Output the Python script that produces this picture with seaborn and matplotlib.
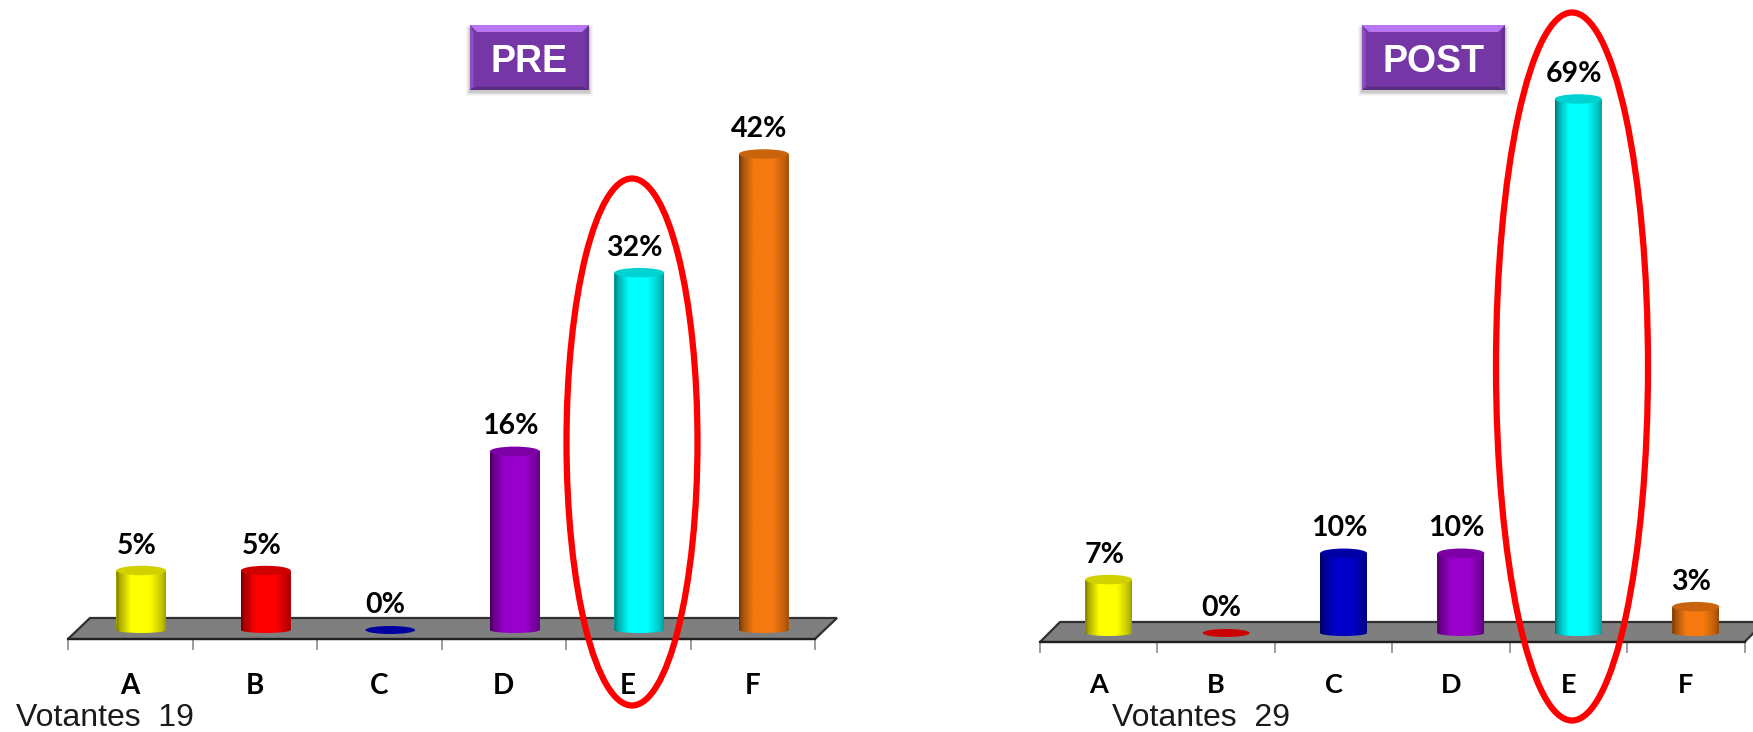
import numpy as np
import pandas as pd
import matplotlib
matplotlib.use("Agg")
import matplotlib.pyplot as plt
from matplotlib.colors import to_rgb
from matplotlib.patches import Ellipse, Polygon, Rectangle
from matplotlib.path import Path
from matplotlib.ticker import FixedLocator
import seaborn as sns

# Share of votes per answer, before and after the session
categories = ["A", "B", "C", "D", "E", "F"]
pre_values = [5.26, 5.26, 0.0, 15.8, 31.6, 42.1]
post_values = [6.9, 0.0, 10.3, 10.3, 69.0, 3.4]
pre_voters = 19
post_voters = 29

pre_colors = ["#FFFF00", "#FF0000", "#0000C8", "#9900CC", "#00FFFF", "#F57A10"]
post_colors = ["#FFFF00", "#FF0000", "#0000C8", "#9900CC", "#00FFFF", "#F57A10"]

W, H = 1753, 732
DARK_FONT = ["Lato", "DejaVu Sans"]
ARIAL = ["Liberation Sans", "DejaVu Sans"]

sns.set_theme(style="white")
plt.rcParams["font.family"] = DARK_FONT

fig = plt.figure(figsize=(W / 100, H / 100), dpi=100, facecolor="white")


def shade(color, factor):
    return tuple(np.clip(np.array(to_rgb(color)) * factor, 0, 1))


def cylinder_image(color):
    # Horizontal lighting across a cylinder: dark rim, bright core
    stops = [0.0, 0.06, 0.3, 0.68, 0.93, 1.0]
    gains = [0.45, 0.66, 1.0, 1.0, 0.76, 0.62]
    t = np.linspace(0, 1, 64)
    gain = np.interp(t, stops, gains)
    rgb = np.array(to_rgb(color))
    return (rgb[None, None, :] * gain[None, :, None]).clip(0, 1)


def draw_panel(values, colors, left, right, front_y, base_y, px_per_unit,
               skew_px, back_y, label_size, tick_size, tick_label_y):
    slot_px = (right - left) / len(categories)
    y_min = -(front_y - base_y) / px_per_unit
    y_max = base_y / px_per_unit
    ax = fig.add_axes([left / W, 1 - front_y / H, (right - left) / W, front_y / H])
    ax.patch.set_alpha(0)

    frame = pd.DataFrame({"answer": categories, "share": values})
    sns.barplot(data=frame, x="answer", y="share", hue="answer", order=categories,
                hue_order=categories, palette=dict(zip(categories, colors)),
                saturation=1, width=0.40, legend=False, ax=ax, zorder=3, linewidth=0)
    ax.set_xlim(-0.5, len(categories) - 0.5)
    ax.set_ylim(y_min, y_max)
    ax.set_xlabel("")
    ax.set_ylabel("")
    ax.set_yticks([])

    # Floor plate seen in oblique projection
    dx = skew_px / slot_px
    dy = (front_y - back_y) / px_per_unit
    x0, x1 = ax.get_xlim()
    ax.add_patch(Polygon([(x0, y_min), (x1, y_min), (x1 + dx, y_min + dy), (x0 + dx, y_min + dy)],
                         closed=True, facecolor="#7F7F7F", edgecolor="#303030",
                         linewidth=1.6, zorder=1, clip_on=False))

    # Category labels sit mid-slot, tick marks on slot boundaries
    ax.xaxis.set_major_locator(FixedLocator(range(len(categories))))
    ax.set_xticklabels(categories)
    ax.xaxis.set_minor_locator(FixedLocator(np.arange(-0.5, len(categories), 1.0)))
    ax.tick_params(axis="x", which="minor", length=8, width=1.2, color="#8C8C8C", bottom=True)
    ax.tick_params(axis="x", which="major", length=0,
                   pad=(tick_label_y - front_y - 10) * 0.72, labelsize=tick_size)
    for t in ax.get_xticklabels():
        t.set_fontweight("bold")
        t.set_color("black")
        t.set_family(DARK_FONT)

    for side in ("top", "left", "right"):
        ax.spines[side].set_visible(False)
    ax.spines["bottom"].set_color("#202020")
    ax.spines["bottom"].set_linewidth(1.6)
    ax.spines["bottom"].set_zorder(2)

    # Turn each flat bar into a lit cylinder, using the bar's own geometry
    offset = (skew_px * 0.5) / slot_px
    cap_h = 9.5 / px_per_unit
    foot_h = 6.0 / px_per_unit
    for patch, val, col in zip(ax.patches, values, colors):
        patch.set_x(patch.get_x() + offset)
        patch.set_visible(val > 0)
        bx, bw = patch.get_x(), patch.get_width()
        cx = bx + bw / 2
        top = patch.get_height()
        if top <= 0:
            ax.add_patch(Ellipse((cx, 0), bw, 8.0 / px_per_unit, facecolor=shade(col, 0.8),
                                 edgecolor="none", zorder=4))
        else:
            foot = Ellipse((cx, 0), bw, foot_h)
            outline = Path.make_compound_path(
                Path([(bx, 0), (bx + bw, 0), (bx + bw, top), (bx, top), (bx, 0)], closed=True),
                foot.get_path().transformed(foot.get_patch_transform()),
            )
            image = ax.imshow(cylinder_image(col), extent=(bx, bx + bw, -foot_h / 2, top),
                              aspect="auto", zorder=3.1, interpolation="bilinear")
            image.set_clip_path(outline, ax.transData)
            patch.set_facecolor(shade(col, 0.9))
            patch.set_zorder(2.9)
            ax.add_patch(Ellipse((cx, top), bw, cap_h, facecolor=shade(col, 0.82),
                                 edgecolor="none", zorder=3.2))
        ax.text(cx - 4.5 / slot_px, top + 17 / px_per_unit, f"{val:.0f}%",
                ha="center", va="baseline", fontsize=label_size, fontweight="bold",
                color="black", family=DARK_FONT, zorder=5)
    ax.set_xlim(x0, x1)
    ax.set_ylim(y_min, y_max)
    return ax


draw_panel(pre_values, pre_colors, 68, 815, 639, 630, 476 / 42.1, 22, 618, 20.5, 20, 683)
draw_panel(post_values, post_colors, 1040, 1744.5, 642, 633, 534 / 69.0, 20, 622, 20.5, 19.5, 683)

# Overlay in figure pixels for the callouts, badges and voter counts
overlay = fig.add_axes([0, 0, 1, 1], zorder=10)
overlay.set_xlim(0, W)
overlay.set_ylim(H, 0)
overlay.axis("off")
overlay.patch.set_alpha(0)


def badge(x0, x1, y0, y1, text):
    bevel = 7
    for grow, alpha in ((4, 0.04), (3, 0.06), (2, 0.09), (1, 0.12)):
        overlay.add_patch(Rectangle((x0 - grow, y0 - grow + 4), x1 - x0 + 2 * grow,
                                    y1 - y0 + 2 * grow - 2, facecolor="#404040",
                                    alpha=alpha, edgecolor="none"))
    overlay.add_patch(Rectangle((x0, y0), x1 - x0, y1 - y0, facecolor="#7536A6", edgecolor="none"))
    overlay.add_patch(Polygon([(x0, y0), (x1, y0), (x1 - bevel, y0 + bevel), (x0 + bevel, y0 + bevel)],
                              facecolor="#B877F2", edgecolor="none"))
    overlay.add_patch(Polygon([(x0, y1), (x1, y1), (x1 - bevel, y1 - bevel / 2), (x0 + bevel, y1 - bevel / 2)],
                              facecolor="#5A2C80", edgecolor="none"))
    overlay.add_patch(Polygon([(x0, y0), (x0 + bevel / 2, y0 + bevel), (x0 + bevel / 2, y1 - bevel / 2), (x0, y1)],
                              facecolor="#8B4FBF", edgecolor="none"))
    overlay.add_patch(Polygon([(x1, y0), (x1 - bevel / 2, y0 + bevel), (x1 - bevel / 2, y1 - bevel / 2), (x1, y1)],
                              facecolor="#65308F", edgecolor="none"))
    overlay.text((x0 + x1) / 2, (y0 + y1) / 2 + 14, text, color="white", ha="center",
                 va="baseline", fontsize=27, fontweight="bold", family=ARIAL)


badge(470, 589, 25, 90, "PRE")
badge(1362, 1505, 25, 90, "POST")

for cx, cy, w, h in ((632, 442, 131, 527), (1572, 366.5, 152, 708)):
    overlay.add_patch(Ellipse((cx, cy), w, h, facecolor="none", edgecolor="#FF0000", linewidth=4.5))

overlay.text(16, 725.5, f"Votantes  {pre_voters}", fontsize=23, color="#1A1A1A",
             ha="left", va="baseline", family=ARIAL)
overlay.text(1112, 725.5, f"Votantes  {post_voters}", fontsize=23, color="#1A1A1A",
             ha="left", va="baseline", family=ARIAL)

fig.savefig("out.png", dpi=100)
